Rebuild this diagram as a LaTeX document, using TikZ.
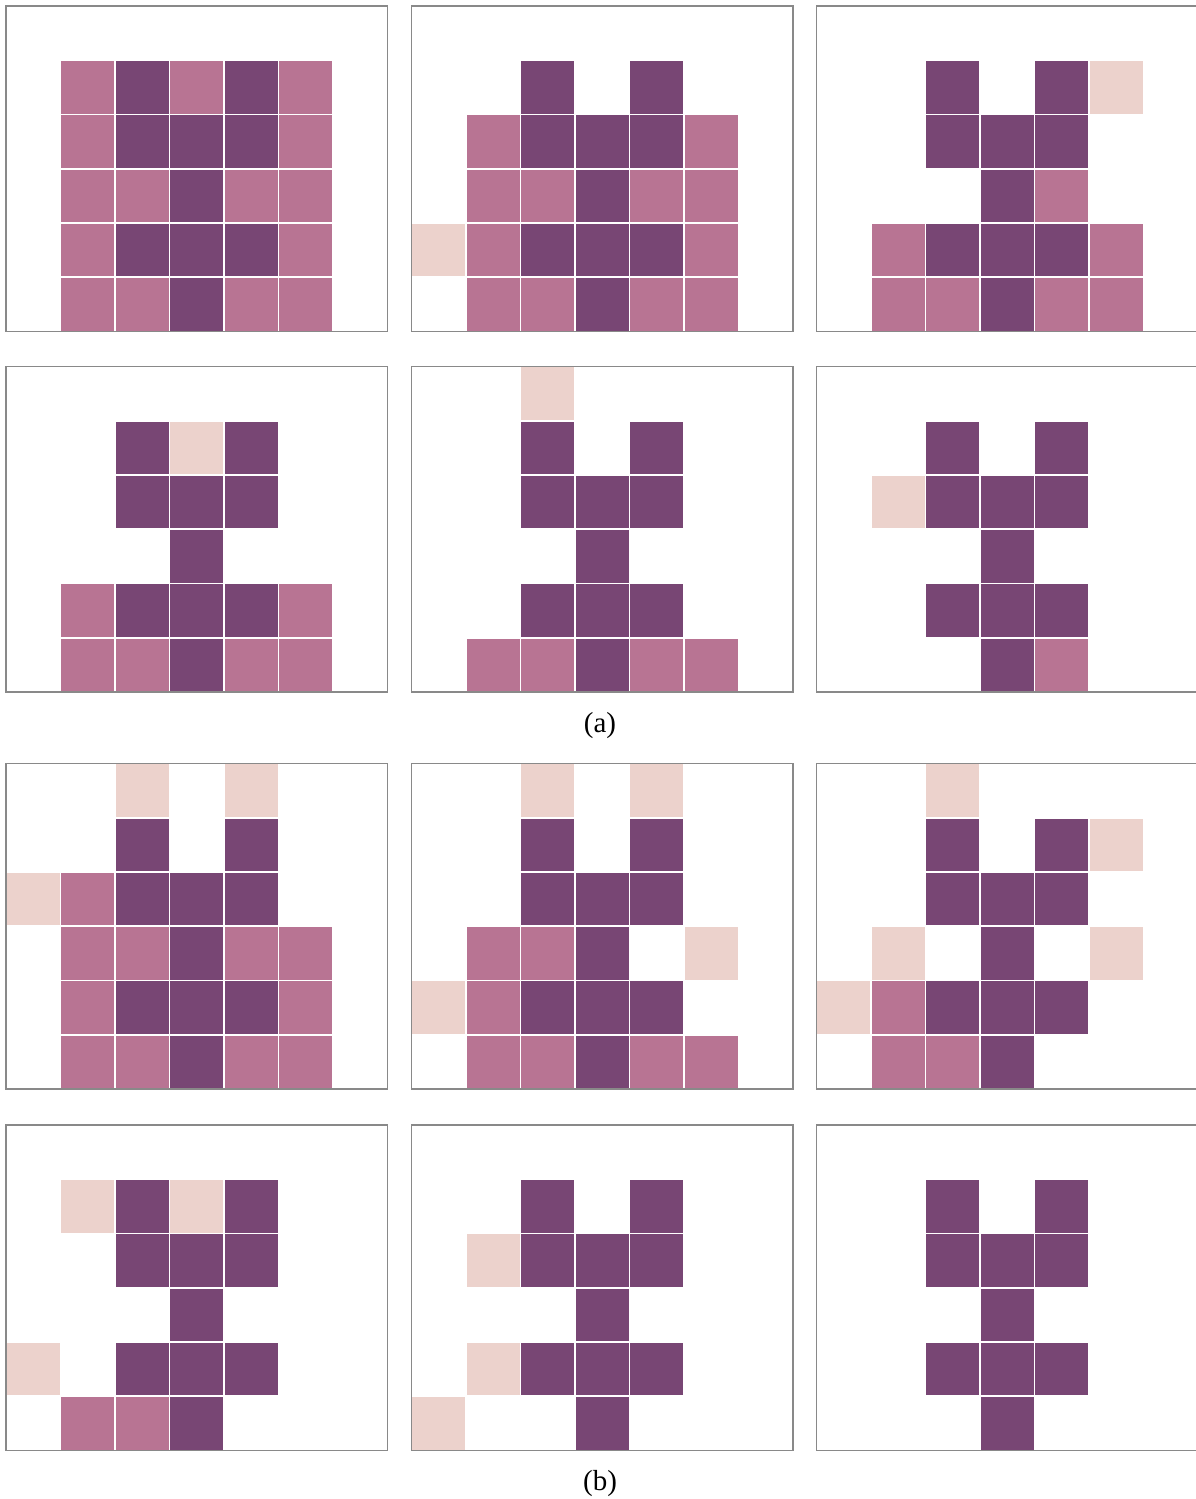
\documentclass[tikz,border=0pt]{standalone}
\usepackage{fontspec}
\setmainfont{Liberation Serif}
\definecolor{dk}{HTML}{784674}
\definecolor{md}{HTML}{B87493}
\definecolor{lt}{HTML}{ECD2CC}
\definecolor{framegray}{HTML}{898989}
\tikzset{
  cellbox/.style={draw=white, line width=1.6pt},
  panelframe/.style={draw=framegray, line width=1.2pt},
  caption/.style={font=\fontsize{29}{32}\selectfont, inner sep=0pt}
}
\newcommand\drawpanel[3]{%
  \foreach \c/\r/\k in {#3} {
    \fill[cellbox, fill=\k] (#1+\c*54.5, #2+\r*54.25) rectangle ++(54.5,54.25);
  }
  \draw[panelframe] (#1,#2) rectangle ++(381.5,325.5);
}
\begin{document}
\begin{tikzpicture}[x=1pt,y=-1pt]
\useasboundingbox (0,0) rectangle (1196,1499);
\clip (0,0) rectangle (1196,1499);
% ---- row 1 (a)
\drawpanel{6}{6}{1/1/md,2/1/dk,3/1/md,4/1/dk,5/1/md,
1/2/md,2/2/dk,3/2/dk,4/2/dk,5/2/md,
1/3/md,2/3/md,3/3/dk,4/3/md,5/3/md,
1/4/md,2/4/dk,3/4/dk,4/4/dk,5/4/md,
1/5/md,2/5/md,3/5/dk,4/5/md,5/5/md}
\drawpanel{411.5}{6}{2/1/dk,4/1/dk,
1/2/md,2/2/dk,3/2/dk,4/2/dk,5/2/md,
1/3/md,2/3/md,3/3/dk,4/3/md,5/3/md,
0/4/lt,1/4/md,2/4/dk,3/4/dk,4/4/dk,5/4/md,
1/5/md,2/5/md,3/5/dk,4/5/md,5/5/md}
\drawpanel{816.5}{6}{2/1/dk,4/1/dk,5/1/lt,
2/2/dk,3/2/dk,4/2/dk,
3/3/dk,4/3/md,
1/4/md,2/4/dk,3/4/dk,4/4/dk,5/4/md,
1/5/md,2/5/md,3/5/dk,4/5/md,5/5/md}
% ---- row 2 (a)
\drawpanel{6}{366.5}{2/1/dk,3/1/lt,4/1/dk,
2/2/dk,3/2/dk,4/2/dk,
3/3/dk,
1/4/md,2/4/dk,3/4/dk,4/4/dk,5/4/md,
1/5/md,2/5/md,3/5/dk,4/5/md,5/5/md}
\drawpanel{411.5}{366.5}{2/0/lt,
2/1/dk,4/1/dk,
2/2/dk,3/2/dk,4/2/dk,
3/3/dk,
2/4/dk,3/4/dk,4/4/dk,
1/5/md,2/5/md,3/5/dk,4/5/md,5/5/md}
\drawpanel{816.5}{366.5}{2/1/dk,4/1/dk,
1/2/lt,2/2/dk,3/2/dk,4/2/dk,
3/3/dk,
2/4/dk,3/4/dk,4/4/dk,
3/5/dk,4/5/md}
\node[caption] (capa) at (600,726) {(a)};
% ---- row 3 (b)
\drawpanel{6}{763.5}{2/0/lt,4/0/lt,
2/1/dk,4/1/dk,
0/2/lt,1/2/md,2/2/dk,3/2/dk,4/2/dk,
1/3/md,2/3/md,3/3/dk,4/3/md,5/3/md,
1/4/md,2/4/dk,3/4/dk,4/4/dk,5/4/md,
1/5/md,2/5/md,3/5/dk,4/5/md,5/5/md}
\drawpanel{411.5}{763.5}{2/0/lt,4/0/lt,
2/1/dk,4/1/dk,
2/2/dk,3/2/dk,4/2/dk,
1/3/md,2/3/md,3/3/dk,5/3/lt,
0/4/lt,1/4/md,2/4/dk,3/4/dk,4/4/dk,
1/5/md,2/5/md,3/5/dk,4/5/md,5/5/md}
\drawpanel{816.5}{763.5}{2/0/lt,
2/1/dk,4/1/dk,5/1/lt,
2/2/dk,3/2/dk,4/2/dk,
1/3/lt,3/3/dk,5/3/lt,
0/4/lt,1/4/md,2/4/dk,3/4/dk,4/4/dk,
1/5/md,2/5/md,3/5/dk}
% ---- row 4 (b)
\drawpanel{6}{1125}{1/1/lt,2/1/dk,3/1/lt,4/1/dk,
2/2/dk,3/2/dk,4/2/dk,
3/3/dk,
0/4/lt,2/4/dk,3/4/dk,4/4/dk,
1/5/md,2/5/md,3/5/dk}
\drawpanel{411.5}{1125}{2/1/dk,4/1/dk,
1/2/lt,2/2/dk,3/2/dk,4/2/dk,
3/3/dk,
1/4/lt,2/4/dk,3/4/dk,4/4/dk,
0/5/lt,3/5/dk}
\drawpanel{816.5}{1125}{2/1/dk,4/1/dk,
2/2/dk,3/2/dk,4/2/dk,
3/3/dk,
2/4/dk,3/4/dk,4/4/dk,
3/5/dk}
\node[caption] (capb) at (600,1484) {(b)};
\end{tikzpicture}
\end{document}
